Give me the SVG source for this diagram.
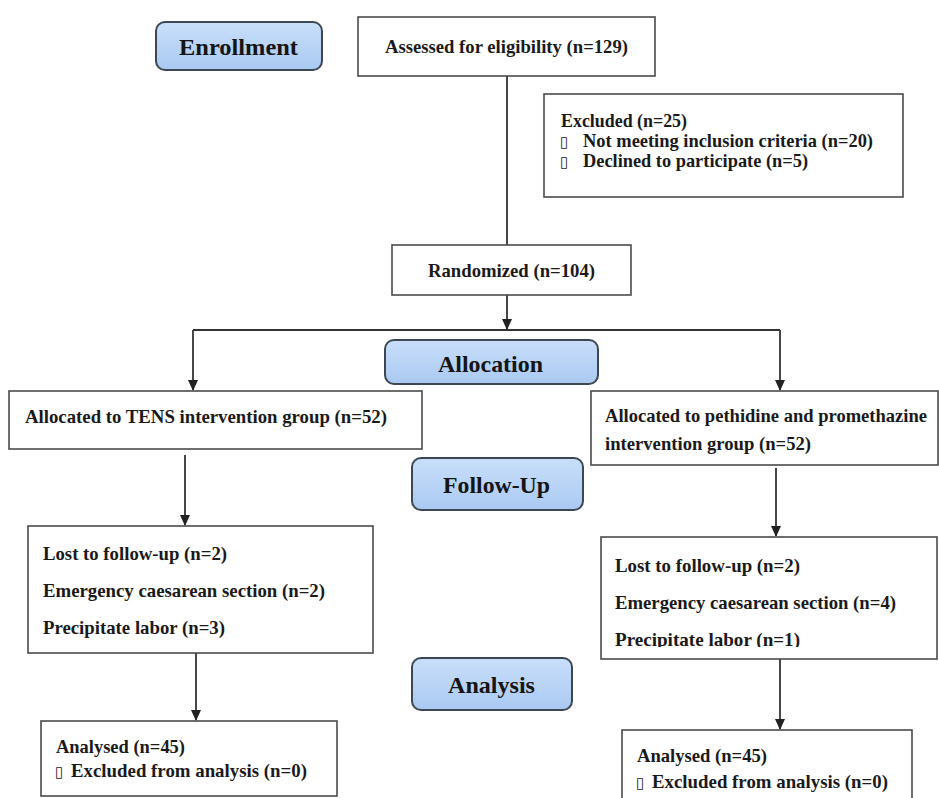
<svg xmlns="http://www.w3.org/2000/svg" width="939" height="798" viewBox="0 0 939 798">
<style>
.box{fill:#fff;stroke:#4a4a4a;stroke-width:1.6}
.hdr{stroke:#3d4752;stroke-width:2}
.t{font-family:"Liberation Serif","Times New Roman",serif;font-weight:bold;font-size:19.5px;fill:#1a1a1a}
.s{font-size:18px}
.h{font-family:"Liberation Serif","Times New Roman",serif;font-weight:bold;font-size:24px;fill:#151515}
.cb{font-family:"DejaVu Sans",sans-serif;font-size:15px;fill:#222}
.ln{stroke:#333;stroke-width:1.8;fill:none}
</style>
<defs>
<linearGradient id="g" x1="0" y1="0" x2="0" y2="1">
<stop offset="0" stop-color="#c9dffb"/>
<stop offset="1" stop-color="#aac9f1"/>
</linearGradient>
<marker id="ar" markerWidth="12" markerHeight="12" refX="10" refY="5" orient="auto" markerUnits="userSpaceOnUse">
<path d="M0,0 L11,5 L0,10 Z" fill="#222"/>
</marker>
<clipPath id="clipR"><rect x="600" y="537" width="339" height="110"/></clipPath>
</defs>
<rect width="939" height="798" fill="#fff"/>

<g id="connectors">
<line class="ln" x1="507" y1="76" x2="507" y2="245"/>
<line class="ln" x1="507" y1="295" x2="507" y2="329" marker-end="url(#ar)"/>
<line class="ln" x1="193" y1="330" x2="780" y2="330"/>
<line class="ln" x1="193" y1="330" x2="193" y2="390" marker-end="url(#ar)"/>
<line class="ln" x1="780" y1="330" x2="780" y2="390" marker-end="url(#ar)"/>
<line class="ln" x1="185" y1="455" x2="185" y2="525" marker-end="url(#ar)"/>
<line class="ln" x1="776" y1="468" x2="776" y2="536" marker-end="url(#ar)"/>
<line class="ln" x1="196" y1="653" x2="196" y2="720" marker-end="url(#ar)"/>
<line class="ln" x1="780" y1="659" x2="780" y2="729" marker-end="url(#ar)"/>
</g>

<g id="enrollment">
<rect class="hdr" x="156" y="22" width="166" height="48" rx="9" fill="url(#g)"/>
<text class="h" x="179" y="55" textLength="119" lengthAdjust="spacingAndGlyphs">Enrollment</text>
</g>

<g id="assessed">
<rect class="box" x="358" y="17" width="297" height="59"/>
<text class="t" x="385" y="53" textLength="243" lengthAdjust="spacingAndGlyphs">Assessed for eligibility (n=129)</text>
</g>

<g id="excluded">
<rect class="box" x="544" y="94" width="359" height="103"/>
<text class="t" x="561" y="127" textLength="126" lengthAdjust="spacingAndGlyphs">Excluded (n=25)</text>
<text class="cb" x="560" y="147">▯</text>
<text class="t" x="583" y="147" textLength="290" lengthAdjust="spacingAndGlyphs">Not meeting inclusion criteria (n=20)</text>
<text class="cb" x="560" y="167">▯</text>
<text class="t" x="583" y="167" textLength="225" lengthAdjust="spacingAndGlyphs">Declined to participate (n=5)</text>
</g>

<g id="randomized">
<rect class="box" x="392" y="245" width="239" height="50"/>
<text class="t" x="428" y="277" textLength="167" lengthAdjust="spacingAndGlyphs">Randomized (n=104)</text>
</g>

<g id="allocation">
<rect class="hdr" x="385" y="340" width="213" height="44" rx="9" fill="url(#g)"/>
<text class="h" x="438" y="372" textLength="105" lengthAdjust="spacingAndGlyphs">Allocation</text>
</g>

<g id="tens">
<rect class="box" x="9" y="391" width="413" height="58"/>
<text class="t" x="25" y="423" textLength="362" lengthAdjust="spacingAndGlyphs">Allocated to TENS intervention group (n=52)</text>
</g>

<g id="pethidine">
<rect class="box" x="591" y="391" width="347" height="74"/>
<text class="t s" x="605" y="422" textLength="322" lengthAdjust="spacingAndGlyphs">Allocated to pethidine and promethazine</text>
<text class="t" x="605" y="450" textLength="206" lengthAdjust="spacingAndGlyphs">intervention group (n=52)</text>
</g>

<g id="followup">
<rect class="hdr" x="412" y="458" width="171" height="52" rx="9" fill="url(#g)"/>
<text class="h" x="443" y="493" textLength="107" lengthAdjust="spacingAndGlyphs">Follow-Up</text>
</g>

<g id="follow-left">
<rect class="box" x="28" y="526" width="345" height="127"/>
<text class="t" x="43" y="560" textLength="184" lengthAdjust="spacingAndGlyphs">Lost to follow-up (n=2)</text>
<text class="t" x="43" y="597" textLength="282" lengthAdjust="spacingAndGlyphs">Emergency caesarean section (n=2)</text>
<text class="t" x="43" y="634" textLength="182" lengthAdjust="spacingAndGlyphs">Precipitate labor (n=3)</text>
</g>

<g id="follow-right">
<rect class="box" x="601" y="537" width="336" height="122"/>
<text class="t" x="615" y="572" textLength="185" lengthAdjust="spacingAndGlyphs">Lost to follow-up (n=2)</text>
<text class="t" x="615" y="609" textLength="281" lengthAdjust="spacingAndGlyphs">Emergency caesarean section (n=4)</text>
<text class="t" x="615" y="646" textLength="185" lengthAdjust="spacingAndGlyphs" clip-path="url(#clipR)">Precipitate labor (n=1)</text>
</g>

<g id="analysis">
<rect class="hdr" x="412" y="658" width="160" height="52" rx="9" fill="url(#g)"/>
<text class="h" x="448" y="693" textLength="87" lengthAdjust="spacingAndGlyphs">Analysis</text>
</g>

<g id="analysed-left">
<rect class="box" x="41" y="721" width="296" height="75"/>
<text class="t" x="56" y="753" textLength="129" lengthAdjust="spacingAndGlyphs">Analysed (n=45)</text>
<text class="cb" x="55" y="777">▯</text>
<text class="t" x="71" y="777" textLength="236" lengthAdjust="spacingAndGlyphs">Excluded from analysis (n=0)</text>
</g>

<g id="analysed-right">
<rect class="box" x="622" y="730" width="290" height="80"/>
<text class="t" x="637" y="762" textLength="130" lengthAdjust="spacingAndGlyphs">Analysed (n=45)</text>
<text class="cb" x="636" y="788">▯</text>
<text class="t" x="652" y="788" textLength="236" lengthAdjust="spacingAndGlyphs">Excluded from analysis (n=0)</text>
</g>
</svg>
